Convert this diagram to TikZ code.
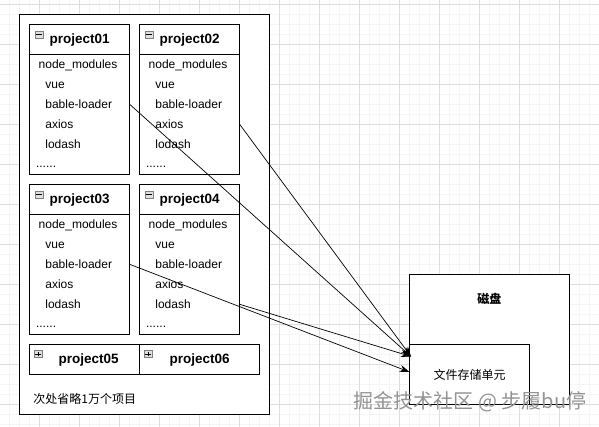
\documentclass[tikz,border=0pt]{standalone}
\usepackage{fontspec}
\setmainfont{Liberation Sans}
\newfontfamily\cjk{Noto Sans CJK SC}
\usetikzlibrary{arrows.meta}
\begin{document}
\begin{tikzpicture}[x=1pt, y=-1pt, line width=0.75pt,
    every node/.style={inner sep=0pt, font=\fontsize{12}{14}\selectfont},
    projhead/.style={draw, fill=white, minimum width=100pt, minimum height=30pt, anchor=north west, font=\fontsize{13.5}{16}\selectfont\bfseries},
    projbody/.style={draw, fill=white, minimum width=100pt, minimum height=120pt, anchor=north},
    row/.style={anchor=base west},
    togglebox/.style={draw=gray, fill=gray!25, line width=0.5pt, minimum width=8pt, minimum height=7pt},
    link/.style={-{Stealth[length=10pt, width=7pt]}, line width=0.7pt}]
  \useasboundingbox (0,0) rectangle (599,427);

  % Background grid
  \foreach \i in {0,...,59} {
    \draw[black!4, line width=0.4pt] (\i*10+9.3,0) -- (\i*10+9.3,427);
  }
  \foreach \i in {0,...,42} {
    \draw[black!4, line width=0.4pt] (0,\i*10+4.3) -- (599,\i*10+4.3);
  }
  \foreach \i in {0,...,14} {
    \draw[black!13, line width=0.5pt] (\i*40+39.3,0) -- (\i*40+39.3,427);
  }
  \foreach \i in {0,...,10} {
    \draw[black!13, line width=0.5pt] (0,\i*40+4.3) -- (599,\i*40+4.3);
  }

  % Container of all projects
  \node[draw, fill=white, minimum width=250pt, minimum height=400pt, anchor=north west] (repo) at (19.3,14.3) {};
  \node[anchor=west, font=\cjk\fontsize{12}{14}\selectfont] (omitted) at (33,399) {次处省略1万个项目};

  % Expanded projects
  \foreach \n/\px/\py in {01/29.3/24.3, 02/139.3/24.3, 03/29.3/184.3, 04/139.3/184.3} {
    \node[projbody] (body\n) at (\px+50,\py+30) {};
    \node[projhead] (head\n) at (\px,\py) {project\n};
    \node[togglebox] (tog\n) at (\px+9.7,\py+10.2) {};
    \draw[line width=0.6pt] ([xshift=1.5pt]tog\n.west) -- ([xshift=-1.5pt]tog\n.east);
    \node[row] (mod\n) at (\px+9,\py+44.3) {node\_modules};
    \node[row] (vue\n) at (\px+15.7,\py+64.3) {vue};
    \node[row] (loader\n) at (\px+15.7,\py+84.3) {bable-loader};
    \node[row] (axios\n) at (\px+15.7,\py+104.3) {axios};
    \node[row] (lodash\n) at (\px+15.7,\py+124.3) {lodash};
    \node[row] (more\n) at (\px+6.4,\py+143) {......};
  }

  % Collapsed projects
  \node[projhead, minimum width=110pt] (head05) at (29.3,344.3) {\hspace{8pt}project05};
  \node[projhead, minimum width=120pt] (head06) at (139.3,344.3) {project06};
  \foreach \n/\px in {05/38, 06/148} {
    \node[togglebox] (tog\n) at (\px,354) {};
    \draw[line width=0.6pt] ([xshift=1.5pt]tog\n.west) -- ([xshift=-1.5pt]tog\n.east);
    \draw[line width=0.6pt] ([yshift=1.5pt]tog\n.south) -- ([yshift=-1.5pt]tog\n.north);
  }

  % Disk and storage unit
  \node[draw, fill=white, minimum width=160pt, minimum height=130pt, anchor=north west] (disk) at (409.3,274.3) {};
  \node[font=\cjk\fontsize{12}{14}\selectfont\bfseries] (disklabel) at (489.3,299) {磁盘};
  \node[draw, fill=white, minimum width=120pt, minimum height=60pt, anchor=north west, font=\cjk\fontsize{12}{14}\selectfont] (store) at (409.3,344.3) {文件存储单元};

  % Links into the storage unit
  \coordinate (tipA) at (411,356.5);
  \coordinate (tipB) at (409.5,372);
  \draw[link] (body01.east |- loader01) -- (tipA);
  \draw[link] (body02.east |- axios02) -- (tipA);
  \draw[link] (body04.east |- lodash04) -- (tipA);
  \draw[link] (body03.east |- loader03) -- (tipB);

  % Watermark
  \node[font=\cjk\fontsize{20}{22}\selectfont, text=gray!85] (mark) at (470,402) {掘金技术社区 @ 步履bu停};
\end{tikzpicture}
\end{document}
